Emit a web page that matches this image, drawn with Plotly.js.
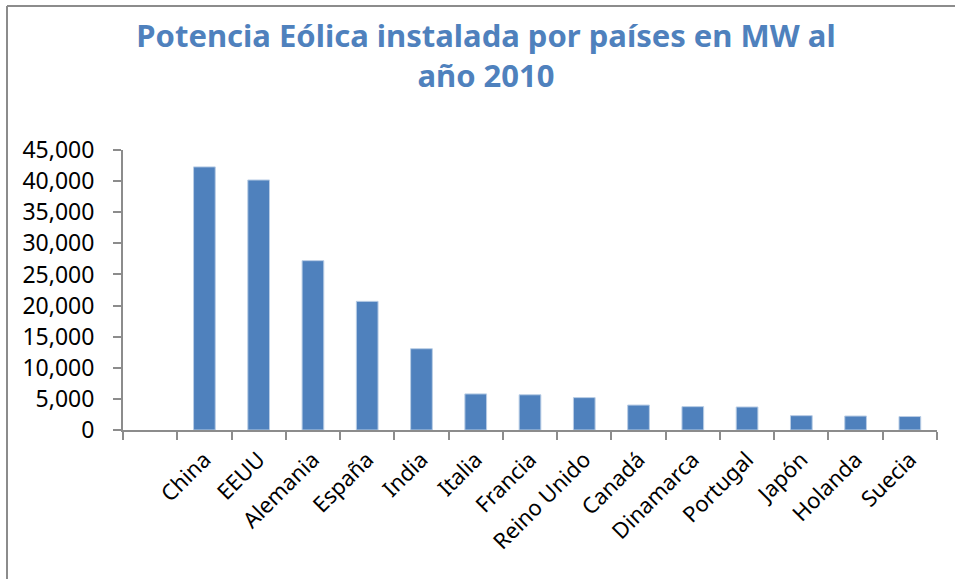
<!DOCTYPE html>
<html>
<head>
<meta charset="utf-8">
<script src="https://cdn.plot.ly/plotly-3.0.1.min.js"></script>
<style>
  html, body { margin: 0; padding: 0; background: #ffffff; }
  #chart { width: 955px; height: 579px; }
</style>
</head>
<body>
<div id="chart"></div>
<script>
// Data (MW installed, 2010)
const countries = [" ", "China", "EEUU", "Alemania", "España", "India", "Italia", "Francia",
  "Reino Unido", "Canadá", "Dinamarca", "Portugal", "Japón", "Holanda", "Suecia"];
const powerMW = [null, 42287, 40180, 27214, 20676, 13065, 5797, 5660,
  5204, 4009, 3752, 3702, 2304, 2245, 2163];
const yTickValues = [0, 5000, 10000, 15000, 20000, 25000, 30000, 35000, 40000, 45000];
const yTickLabels = ["0", "5,000", "10,000", "15,000", "20,000", "25,000", "30,000", "35,000", "40,000", "45,000"];
const titleText = "Potencia Eólica instalada por países en MW al<br>año 2010";

const axisGray = "#8c8c8c";
const fontFamily = "Noto Sans, Open Sans, DejaVu Sans, sans-serif";

const trace = {
  type: "bar",
  x: countries,
  y: powerMW,
  marker: { color: "#4f81bd", line: { color: "#b9cde5", width: 1 } },
  hoverinfo: "x+y"
};

const layout = {
  width: 955,
  height: 579,
  margin: { l: 123, r: 18, t: 150, b: 149 },
  paper_bgcolor: "#ffffff",
  plot_bgcolor: "#ffffff",
  showlegend: false,
  bargap: 0.6,
  title: {
    text: titleText,
    font: { family: fontFamily, size: 31, color: "#4f81bd", weight: "bold" },
    x: 486 / 955, xref: "container", xanchor: "center",
    y: 1 - 47 / 579, yref: "container", yanchor: "top"
  },
  xaxis: {
    type: "category",
    categoryorder: "array",
    categoryarray: countries,
    tickangle: -45,
    tickson: "boundaries",
    ticks: "outside",
    ticklen: 8,
    tickwidth: 2,
    tickcolor: axisGray,
    showline: true,
    linecolor: axisGray,
    linewidth: 2,
    showgrid: false,
    zeroline: false,
    ticklabelstandoff: 6,
    tickfont: { family: fontFamily, size: 22, color: "#000000" },
    automargin: false
  },
  yaxis: {
    range: [0, 45000],
    tickvals: yTickValues,
    ticktext: yTickLabels,
    ticks: "outside",
    ticklen: 8,
    tickwidth: 2,
    tickcolor: axisGray,
    showline: true,
    linecolor: axisGray,
    linewidth: 2,
    showgrid: false,
    zeroline: false,
    ticklabelstandoff: 14,
    tickfont: { family: fontFamily, size: 23, color: "#000000" },
    automargin: false
  },
  shapes: [
    { type: "line", xref: "paper", yref: "paper",
      x0: (7 - 123) / 814, x1: (955 - 123) / 814, y0: (430 - 6) / 280, y1: (430 - 6) / 280,
      line: { color: axisGray, width: 2 } },
    { type: "line", xref: "paper", yref: "paper",
      x0: (7 - 123) / 814, x1: (7 - 123) / 814, y0: (430 - 6) / 280, y1: (430 - 579) / 280,
      line: { color: axisGray, width: 2 } }
  ]
};

Plotly.newPlot("chart", [trace], layout, { displayModeBar: false, staticPlot: true });
</script>
</body>
</html>
